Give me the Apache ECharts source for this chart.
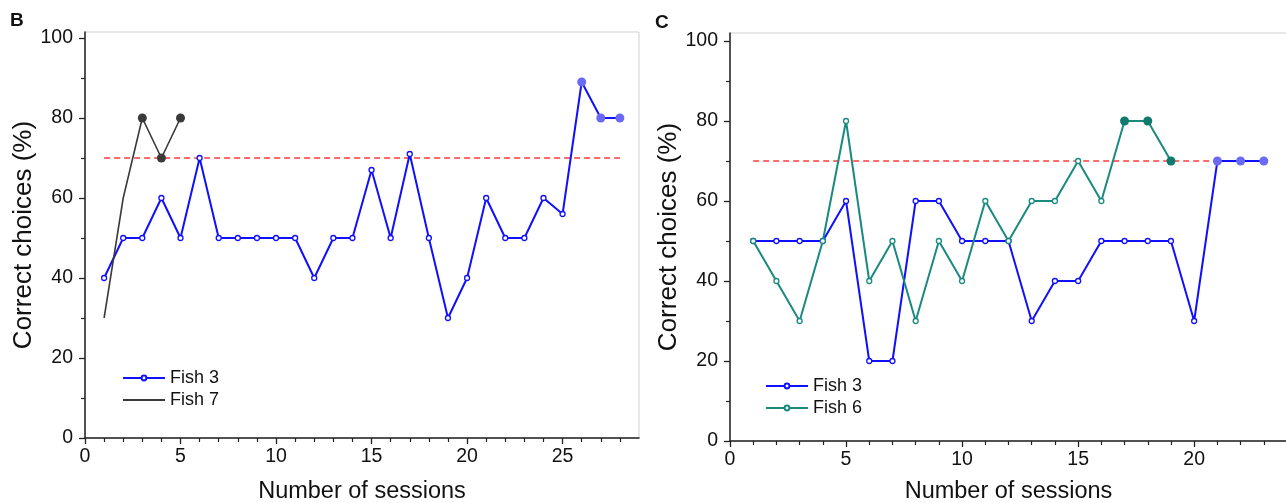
<!DOCTYPE html>
<html>
<head>
<meta charset="utf-8">
<script src="https://cdn.jsdelivr.net/npm/echarts@6/dist/echarts.min.js"></script>
<style>
html,body{margin:0;padding:0;background:#fff;}
#chart{width:1286px;height:503px;}
</style>
</head>
<body>
<div id="chart"></div>
<script>
// ---- Data ----
const sessionsB = [1,2,3,4,5,6,7,8,9,10,11,12,13,14,15,16,17,18,19,20,21,22,23,24,25,26,27,28];
const fish3B = [40,50,50,60,50,70,50,50,50,50,50,40,50,50,67,50,71,50,30,40,60,50,50,60,56,89,80,80];
const fish3BFilled = [26,27,28];
const sessionsB7 = [1,2,3,4,5];
const fish7B = [30,60,80,70,80];
const fish7BFilled = [3,4,5];

const sessionsC3 = [1,2,3,4,5,6,7,8,9,10,11,12,13,14,15,16,17,18,19,20,21,22,23];
const fish3C = [50,50,50,50,60,20,20,60,60,50,50,50,30,40,40,50,50,50,50,30,70,70,70];
const fish3CFilled = [21,22,23];
const sessionsC6 = [1,2,3,4,5,6,7,8,9,10,11,12,13,14,15,16,17,18,19];
const fish6C = [50,40,30,50,80,40,50,30,50,40,60,50,60,60,70,60,80,80,70];
const fish6CFilled = [17,18,19];

const threshold = 70;
const thresholdSpanB = [1,28];
const thresholdSpanC = [1,23];

const yMajorTicks = [0,20,40,60,80,100];
const yMinorTicks = [10,30,50,70,90];
const xMajorTicksB = [0,5,10,15,20,25];
const xMajorTicksC = [0,5,10,15,20];

// ---- Styles ----
const FONT = 'Arial, "Liberation Sans", sans-serif';
const BLUE = '#1010ff', BLUE_FILL = '#6a6af6';
const GRAY = '#3a3a3a';
const TEAL = '#1a8a80', TEAL_FILL = '#0e7a6e';

function buildData(xs, ys, filled, fillColor, filledSize, openSymbol) {
  return xs.map((x, i) => {
    if (filled.indexOf(x) >= 0) {
      return { value: [x, ys[i]], symbol: 'circle', symbolSize: filledSize,
               itemStyle: { color: fillColor, borderColor: fillColor, borderWidth: 0 } };
    }
    const item = { value: [x, ys[i]] };
    if (openSymbol === 'none') item.symbol = 'none';
    return item;
  });
}
function range(a, b) { const r = []; for (let i = a; i <= b; i++) r.push(i); return r; }
function minorX(max) { return range(1, max).filter(v => v % 5 !== 0); }

function majorX(gridIndex, max, ticks, gap) {
  return {
    type: 'value', gridIndex, min: 0, max, position: 'bottom',
    name: 'Number of sessions', nameLocation: 'middle', nameGap: gap,
    nameTextStyle: { fontFamily: FONT, fontSize: 23.5, color: '#111' },
    axisLine: { show: true, onZero: false, lineStyle: { color: '#222', width: 1.5 } },
    axisTick: { show: true, length: 6, customValues: ticks, lineStyle: { color: '#222', width: 1.3 } },
    axisLabel: { customValues: ticks, fontFamily: FONT, fontSize: 19.5, color: '#111', margin: 9 },
    splitLine: { show: false }
  };
}
function minorXAxis(gridIndex, max, ticks) {
  return {
    type: 'value', gridIndex, min: 0, max, position: 'bottom',
    axisLine: { show: false, onZero: false },
    axisTick: { show: true, length: 4, customValues: ticks, lineStyle: { color: '#222', width: 1.2 } },
    axisLabel: { show: false }, splitLine: { show: false }
  };
}
function majorY(gridIndex, max) {
  return {
    type: 'value', gridIndex, min: 0, max, position: 'left',
    name: 'Correct choices (%)', nameLocation: 'middle', nameGap: 47,
    nameTextStyle: { fontFamily: FONT, fontSize: 26, color: '#111' },
    axisLine: { show: true, onZero: false, lineStyle: { color: '#222', width: 1.5 } },
    axisTick: { show: true, length: 6, customValues: yMajorTicks, lineStyle: { color: '#222', width: 1.3 } },
    axisLabel: { customValues: yMajorTicks, fontFamily: FONT, fontSize: 19.5, color: '#111', margin: 12 },
    splitLine: { show: false }
  };
}
function minorYAxis(gridIndex, max) {
  return {
    type: 'value', gridIndex, min: 0, max, position: 'left',
    axisLine: { show: false, onZero: false },
    axisTick: { show: true, length: 4, customValues: yMinorTicks, lineStyle: { color: '#222', width: 1.2 } },
    axisLabel: { show: false }, splitLine: { show: false }
  };
}

const openMarker = (color) => ({ color: '#fff', borderColor: color, borderWidth: 1.3 });

const option = {
  animation: false,
  backgroundColor: '#fff',
  title: [
    { text: 'B', left: 5, top: 6, textStyle: { fontFamily: FONT, fontSize: 19, fontWeight: 'bold', color: '#111' } },
    { text: 'C', left: 650, top: 8, textStyle: { fontFamily: FONT, fontSize: 19, fontWeight: 'bold', color: '#111' } }
  ],
  grid: [
    { left: 85, top: 32, width: 554, height: 406, show: true, borderColor: '#cfcfcf', borderWidth: 1,
      containLabel: false, outerBoundsMode: 'none' },
    { left: 730, top: 33, width: 557, height: 408, show: true, borderColor: '#cfcfcf', borderWidth: 1,
      containLabel: false, outerBoundsMode: 'none' }
  ],
  xAxis: [
    majorX(0, 29, xMajorTicksB, 42), minorXAxis(0, 29, minorX(28)),
    majorX(1, 24, xMajorTicksC, 39), minorXAxis(1, 24, minorX(24))
  ],
  yAxis: [
    majorY(0, 101.5), minorYAxis(0, 101.5),
    majorY(1, 102), minorYAxis(1, 102)
  ],
  legend: [
    { data: ['Fish 3', { name: 'Fish 7', itemStyle: { opacity: 0 } }], orient: 'vertical', left: 117, top: 364,
      itemWidth: 42, itemHeight: 6, itemGap: 4,
      textStyle: { fontFamily: FONT, fontSize: 18, color: '#111' } },
    { data: ['Fish 3', 'Fish 6'], orient: 'vertical', left: 760, top: 372, itemWidth: 42, itemHeight: 6, itemGap: 4,
      textStyle: { fontFamily: FONT, fontSize: 18, color: '#111' } }
  ],
  series: [
    { type: 'line', xAxisIndex: 0, yAxisIndex: 0, silent: true, symbol: 'none',
      data: thresholdSpanB.map(x => [x, threshold]),
      lineStyle: { color: '#ff3a3a', width: 1.5, type: [6, 4] }, z: 1 },
    { type: 'line', xAxisIndex: 2, yAxisIndex: 2, silent: true, symbol: 'none',
      data: thresholdSpanC.map(x => [x, threshold]),
      lineStyle: { color: '#ff3a3a', width: 1.5, type: [6, 4] }, z: 1 },
    { name: 'Fish 3', type: 'line', xAxisIndex: 0, yAxisIndex: 0, symbol: 'circle', symbolSize: 5,
      showAllSymbol: true, itemStyle: openMarker(BLUE), lineStyle: { color: BLUE, width: 2 }, color: BLUE,
      data: buildData(sessionsB, fish3B, fish3BFilled, BLUE_FILL, 9, 'circle'), z: 3 },
    { name: 'Fish 7', type: 'line', xAxisIndex: 0, yAxisIndex: 0, symbol: 'none', symbolSize: 9,
      showAllSymbol: true, itemStyle: { color: GRAY }, lineStyle: { color: GRAY, width: 1.6 }, color: GRAY,
      data: buildData(sessionsB7, fish7B, fish7BFilled, GRAY, 9, 'none'), z: 4 },
    { name: 'Fish 3', type: 'line', xAxisIndex: 2, yAxisIndex: 2, symbol: 'circle', symbolSize: 5,
      showAllSymbol: true, itemStyle: openMarker(BLUE), lineStyle: { color: BLUE, width: 2 }, color: BLUE,
      data: buildData(sessionsC3, fish3C, fish3CFilled, BLUE_FILL, 9, 'circle'), z: 3 },
    { name: 'Fish 6', type: 'line', xAxisIndex: 2, yAxisIndex: 2, symbol: 'circle', symbolSize: 5,
      showAllSymbol: true, itemStyle: openMarker(TEAL), lineStyle: { color: TEAL, width: 2 }, color: TEAL,
      data: buildData(sessionsC6, fish6C, fish6CFilled, TEAL_FILL, 9, 'circle'), z: 4 }
  ]
};

const chart = echarts.init(document.getElementById('chart'), null, { renderer: 'canvas' });
chart.setOption(option);
</script>
</body>
</html>
